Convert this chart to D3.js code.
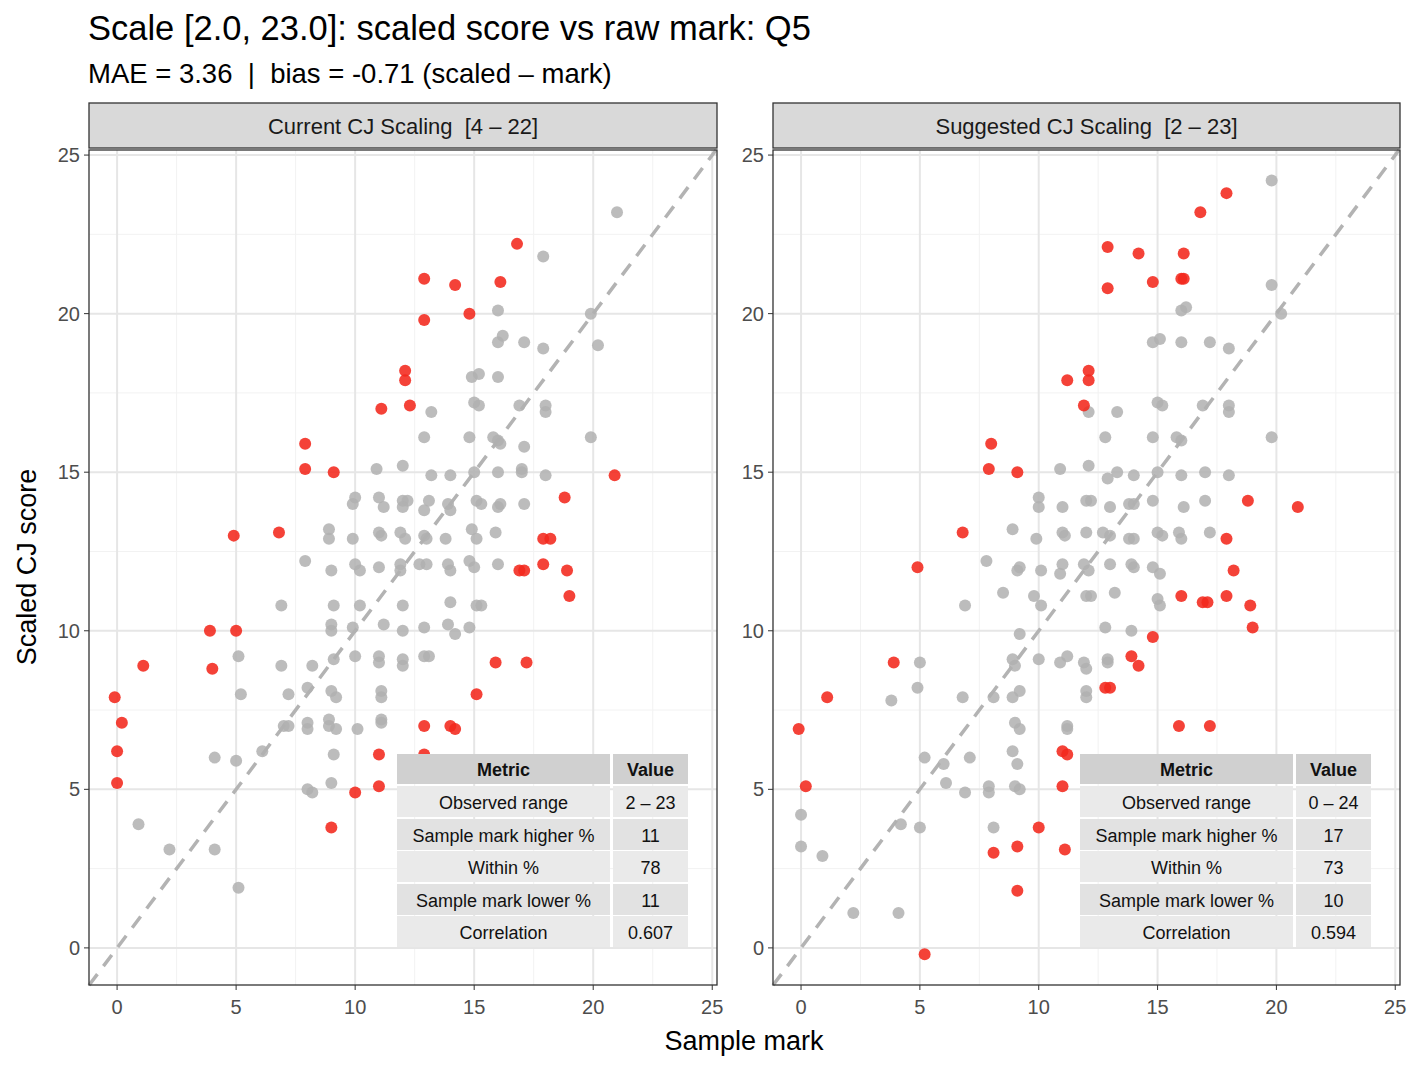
<!DOCTYPE html>
<html><head><meta charset="utf-8">
<script src="https://cdn.jsdelivr.net/npm/d3@7"></script>
<style>body{margin:0;background:#fff;font-family:"Liberation Sans",Arial,sans-serif} text{white-space:pre}</style>
</head><body><svg id="c" width="1416" height="1070"></svg>
<script>
const panelTitles=["Current CJ Scaling  [4 – 22]","Suggested CJ Scaling  [2 – 23]"];
const ticks=[0,5,10,15,20,25];
const leftRed=[[-0.1,7.9],[0.2,7.1],[0,6.2],[0,5.2],[1.1,8.9],[3.9,10],[5,10],[4,8.8],[4.9,13],[6.8,13.1],[7.9,15.9],[7.9,15.1],[9.1,15],[11.1,17],[12.3,17.1],[12.1,18.2],[12.1,17.9],[12.9,21.1],[12.9,19.8],[14.2,20.9],[14.8,20],[16.1,21],[16.8,22.2],[20.9,14.9],[18.8,14.2],[17.9,12.9],[18.2,12.9],[16.9,11.9],[17.1,11.9],[17.9,12.1],[18.9,11.9],[19,11.1],[15.9,9],[17.2,9],[15.1,8],[12.9,7],[14,7],[14.2,6.9],[12.9,6.1],[11,6.1],[11,5.1],[10,4.9],[9,3.8]];
const leftGray=[[21,23.2],[17.9,21.8],[19.9,20],[20.2,19],[16,20.1],[16,19.1],[16.2,19.3],[17.1,19.1],[17.9,18.9],[14.9,18],[15.2,18.1],[16,18],[15,17.2],[15.2,17.1],[16.9,17.1],[18,17.1],[18,16.9],[13.2,16.9],[12.9,16.1],[14.8,16.1],[15.8,16.1],[16,16],[16.1,15.9],[17.1,15.8],[19.9,16.1],[10.9,15.1],[12,15.2],[13.2,14.9],[14,14.9],[15,15],[16,15],[17,15.1],[17,15],[18,14.9],[10,14.2],[9.9,14],[11,14.2],[11.2,13.9],[12,14.1],[12.2,14.1],[12,13.9],[12.9,13.8],[13.1,14.1],[13.9,14],[14,13.8],[15.1,14.1],[15.3,14],[16,13.9],[16.1,14],[17.1,14],[8.9,13.2],[8.9,12.9],[9.9,12.9],[11,13.1],[11.1,13],[11.9,13.1],[12.1,12.9],[12.9,13],[13,12.9],[13.8,12.9],[14.9,13.2],[15.1,12.9],[15.9,13.1],[7.9,12.2],[9,11.9],[10,12.1],[10.2,11.9],[11,12],[11.9,12.1],[11.9,11.9],[12.7,12.1],[13,12.1],[13.9,12.1],[14,11.9],[14.8,12.2],[15,12],[16,12.1],[6.9,10.8],[9.1,10.8],[10.2,10.8],[12,10.8],[14,10.9],[15.1,10.8],[15.3,10.8],[9,10.2],[9,10],[9.9,10.1],[11.2,10.2],[12,10],[12.9,10.1],[13.9,10.2],[14.2,9.9],[14.8,10.1],[5.1,9.2],[6.9,8.9],[8.2,8.9],[9.1,9.1],[10,9.2],[11,9.2],[11,9],[12,9.1],[12,8.9],[12.9,9.2],[13.1,9.2],[5.2,8],[7.2,8],[8,8.2],[9,8.1],[9.2,7.9],[11.1,8.1],[11.1,7.9],[6.1,6.2],[7,7],[7.2,7],[8,7.1],[8,6.9],[8.9,7.2],[8.9,7],[9.2,6.9],[10.1,6.9],[11.1,7.2],[11.1,7.1],[9.1,6.1],[4.1,6],[5,5.9],[8,5],[8.2,4.9],[9,5.2],[0.9,3.9],[2.2,3.1],[4.1,3.1],[5.1,1.9]];
const rightRed=[[-0.1,6.9],[0.2,5.1],[1.1,7.9],[3.9,9],[4.9,12],[6.8,13.1],[8,15.9],[7.9,15.1],[9.1,15],[11.2,17.9],[12.1,18.2],[12.1,17.9],[11.9,17.1],[12.9,22.1],[12.9,20.8],[14.2,21.9],[14.8,21],[16,21.1],[16.1,21.1],[16.1,21.9],[16.8,23.2],[17.9,23.8],[20.9,13.9],[18.8,14.1],[17.9,12.9],[18.2,11.9],[16,11.1],[16.9,10.9],[17.1,10.9],[17.9,11.1],[18.9,10.8],[19,10.1],[14.8,9.8],[13.9,9.2],[14.2,8.9],[12.8,8.2],[13,8.2],[11,6.2],[11.2,6.1],[11,5.1],[15.9,7],[17.2,7],[10,3.8],[11.1,3.1],[9.1,3.2],[8.1,3],[9.1,1.8],[5.2,-0.2]];
const rightGray=[[19.8,24.2],[19.8,20.9],[20.2,20],[16,20.1],[16.2,20.2],[14.8,19.1],[15.1,19.2],[16,19.1],[17.2,19.1],[18,18.9],[12.1,16.9],[13.3,16.9],[12.8,16.1],[14.8,16.1],[15.8,16.1],[16,16],[15,17.2],[15.2,17.1],[16.9,17.1],[18,17.1],[18,16.9],[19.8,16.1],[10.9,15.1],[12.1,15.2],[12.9,14.8],[13.3,15],[14,14.9],[15,15],[16,14.9],[17,15],[18,14.9],[10,14.2],[10,13.9],[11,13.9],[12,14.1],[12.2,14.1],[13,13.9],[13.8,14],[14,14],[14.8,14.1],[16.1,13.9],[17,14.1],[8.9,13.2],[9.9,12.9],[11,13.1],[11.1,13],[12,13.1],[12.7,13.1],[13,13],[13.8,12.9],[14,12.9],[15,13.1],[15.2,13],[15.9,13.1],[16,12.9],[17.2,13.1],[7.8,12.2],[9.1,11.9],[9.2,12],[10.1,11.9],[11,12.1],[10.9,11.8],[11.9,12.1],[12.1,11.9],[13,12.1],[13.9,12.1],[14,12],[14.8,12],[15.1,11.8],[8.5,11.2],[6.9,10.8],[9.8,11.1],[10.1,10.8],[12,11.1],[12.2,11.1],[13.2,11.2],[12.8,10.1],[13.9,10],[15,11],[15.1,10.8],[9.2,9.9],[10,9.1],[8.9,9.1],[9,8.9],[10.9,9],[11.2,9.2],[11.9,9],[12,8.8],[12.9,9.1],[12.9,9],[5,9],[3.8,7.8],[4.9,8.2],[6.8,7.9],[8.1,7.9],[8.9,7.9],[9.2,8.1],[12,8.1],[12,7.9],[11.2,7],[11.2,6.9],[9,7.1],[9.2,6.9],[8.9,6.2],[9.1,5.8],[6,5.8],[7.1,6],[5.2,6],[6.1,5.2],[6.9,4.9],[7.9,5.1],[7.9,4.9],[9,5.1],[9.2,5],[8.1,3.8],[4.2,3.9],[5,3.8],[0,4.2],[0,3.2],[0.9,2.9],[2.2,1.1],[4.1,1.1]];
const tableHeader=["Metric","Value"];
const metricNames=["Observed range","Sample mark higher %","Within %","Sample mark lower %","Correlation"];
const leftValues=["2 – 23","11","78","11","0.607"];
const rightValues=["0 – 24","17","73","10","0.594"];

const svg=d3.select("#c");
svg.append("text").attr("x",88).attr("y",40).attr("font-size",34.5).text("Scale [2.0, 23.0]: scaled score vs raw mark: Q5");
svg.append("text").attr("x",88).attr("y",83).attr("font-size",27.5).text("MAE = 3.36  |  bias = -0.71 (scaled – mark)");
svg.append("text").attr("transform","translate(36,567) rotate(-90)").attr("text-anchor","middle").attr("font-size",27).text("Scaled CJ score");
svg.append("text").attr("x",744).attr("y",1050).attr("text-anchor","middle").attr("font-size",27).text("Sample mark");

const panels=[{x0:89,x1:717,red:leftRed,gray:leftGray,vals:leftValues,t:panelTitles[0],tx:397},
              {x0:773,x1:1400,red:rightRed,gray:rightGray,vals:rightValues,t:panelTitles[1],tx:1080}];
const yT=150,yB=985;
const y=d3.scaleLinear().domain([-1.17,25.16]).range([yB,yT]);
panels.forEach(p=>{
  const x=d3.scaleLinear().domain([-1.18,25.2]).range([p.x0,p.x1]);
  const g=svg.append("g");
  g.append("rect").attr("x",p.x0).attr("y",103).attr("width",p.x1-p.x0).attr("height",45).attr("fill","#d9d9d9").attr("stroke","#333").attr("stroke-width",1.3);
  g.append("text").attr("x",(p.x0+p.x1)/2).attr("y",134).attr("text-anchor","middle").attr("font-size",22).attr("fill","#1a1a1a").text(p.t);
  const minor=[2.5,7.5,12.5,17.5,22.5];
  minor.forEach(v=>{g.append("line").attr("x1",x(v)).attr("x2",x(v)).attr("y1",yT).attr("y2",yB).attr("stroke","#f2f2f2").attr("stroke-width",1);
    g.append("line").attr("y1",y(v)).attr("y2",y(v)).attr("x1",p.x0).attr("x2",p.x1).attr("stroke","#f2f2f2").attr("stroke-width",1);});
  ticks.forEach(v=>{g.append("line").attr("x1",x(v)).attr("x2",x(v)).attr("y1",yT).attr("y2",yB).attr("stroke","#e6e6e6").attr("stroke-width",2);
    g.append("line").attr("y1",y(v)).attr("y2",y(v)).attr("x1",p.x0).attr("x2",p.x1).attr("stroke","#e6e6e6").attr("stroke-width",2);});
  g.append("line").attr("x1",x(-1.18)).attr("y1",y(-1.18)).attr("x2",x(25.16)).attr("y2",y(25.16)).attr("stroke","#b3b3b3").attr("stroke-width",3.5).attr("stroke-dasharray","14,10");
  g.selectAll(".g").data(p.gray).join("circle").attr("cx",d=>x(d[0])).attr("cy",d=>y(d[1])).attr("r",6).attr("fill","#b0b0b0").attr("fill-opacity",0.85);
  g.selectAll(".r").data(p.red).join("circle").attr("cx",d=>x(d[0])).attr("cy",d=>y(d[1])).attr("r",6).attr("fill","#f2281c").attr("fill-opacity",0.88);
  const cw=[213,75],rh=[30,31,31,31,31,31],rowY=[754,786,819,851,884,916];
  const addRow=(i,cells,bg,bold)=>{let cx=p.tx;cells.forEach((c,j)=>{
    g.append("rect").attr("x",cx).attr("y",rowY[i]).attr("width",cw[j]).attr("height",rh[i]).attr("fill",bg);
    g.append("text").attr("x",cx+cw[j]/2).attr("y",rowY[i]+rh[i]/2+7).attr("text-anchor","middle").attr("font-size",18).attr("font-weight",bold?"bold":"normal").attr("fill","#111").text(c);
    cx+=cw[j]+3;});};
  addRow(0,tableHeader,"#d0d0d0",true);
  metricNames.forEach((m,i)=>addRow(i+1,[m,p.vals[i]],i%2==0?"#eaeaea":"#e2e2e2",false));
  g.append("rect").attr("x",p.x0).attr("y",yT).attr("width",p.x1-p.x0).attr("height",yB-yT).attr("fill","none").attr("stroke","#333").attr("stroke-width",1.3);
  ticks.forEach(v=>{g.append("line").attr("x1",x(v)).attr("x2",x(v)).attr("y1",yB).attr("y2",yB+5).attr("stroke","#333");
    g.append("text").attr("x",x(v)).attr("y",yB+29).attr("text-anchor","middle").attr("font-size",20).attr("fill","#4d4d4d").text(v);
    g.append("line").attr("x1",p.x0-5).attr("x2",p.x0).attr("y1",y(v)).attr("y2",y(v)).attr("stroke","#333");
    g.append("text").attr("x",p.x0-9).attr("y",y(v)+7).attr("text-anchor","end").attr("font-size",20).attr("fill","#4d4d4d").text(v);});
});
</script></body></html>
